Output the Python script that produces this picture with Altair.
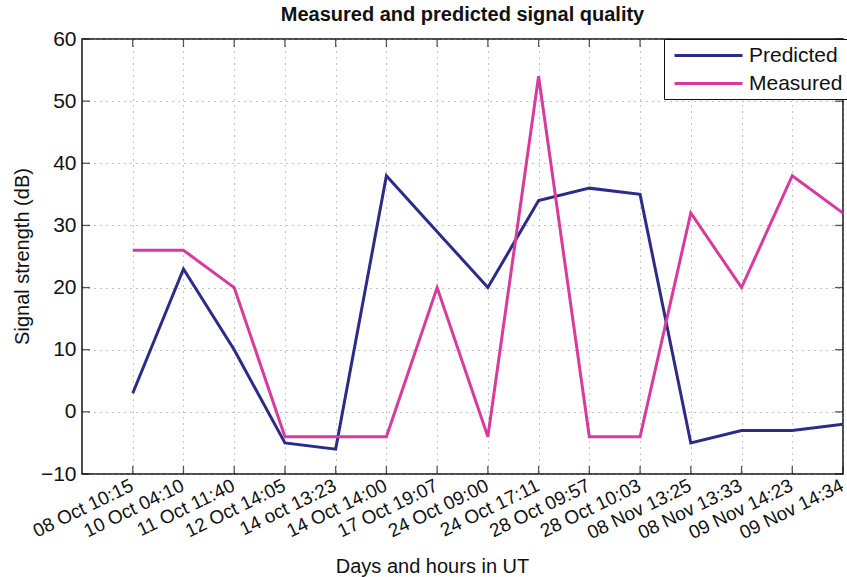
import altair as alt
import pandas as pd

# Measurement times (UT) and signal strengths in dB
times = [
    "08 Oct 10:15", "10 Oct 04:10", "11 Oct 11:40", "12 Oct 14:05", "14 oct 13:23",
    "14 Oct 14:00", "17 Oct 19:07", "24 Oct 09:00", "24 Oct 17:11", "28 Oct 09:57",
    "28 Oct 10:03", "08 Nov 13:25", "08 Nov 13:33", "09 Nov 14:23", "09 Nov 14:34",
]
predicted = [3, 23, 10, -5, -6, 38, 29, 20, 34, 36, 35, -5, -3, -3, -2]
measured = [26, 26, 20, -4, -4, -4, 20, -4, 54, -4, -4, 32, 20, 38, 32]
y_ticks = [-10, 0, 10, 20, 30, 40, 50, 60]

series_names = ["Predicted", "Measured"]
series_colors = ["#2c2c88", "#d83a9e"]

rows = []
for i, t in enumerate(times):
    rows.append({"idx": i, "time": t, "series": "Predicted", "value": predicted[i]})
    rows.append({"idx": i, "time": t, "series": "Measured", "value": measured[i]})
df = pd.DataFrame(rows)

W, H = 761, 435
FONT = "Liberation Sans"

label_array = "[" + ",".join("'" + t + "'" for t in times) + "]"

x_scale = alt.Scale(domain=[-1, len(times) - 1], nice=False, zero=False)
y_scale = alt.Scale(domain=[-10, 60], nice=False, zero=False)

lines = alt.Chart(df).mark_line(strokeWidth=3, strokeJoin="miter", clip=True).encode(
    x=alt.X(
        "idx:Q",
        scale=x_scale,
        axis=alt.Axis(
            values=list(range(len(times))),
            labelExpr=label_array + "[datum.value]",
            labelAngle=-26,
            labelAlign="right",
            labelBaseline="top",
            labelPadding=2,
            labelOffset=-5,
            labelFontSize=19,
            labelFont=FONT,
            labelColor="#111",
            labelOverlap=False,
            labelBound=False,
            labelFlush=False,
            tickSize=0,
            domain=False,
            grid=True,
            gridColor="#8a8a8a",
            gridDash=[1, 5],
            gridWidth=1,
            title="Days and hours in UT",
            titleFont=FONT,
            titleFontSize=20,
            titleFontWeight="normal",
            titleColor="#111",
            titleX=350,
            titleY=92,
            titleBaseline="middle",
            titleAlign="center",
        ),
    ),
    y=alt.Y(
        "value:Q",
        scale=y_scale,
        axis=alt.Axis(
            values=y_ticks,
            labelFontSize=21,
            labelFont=FONT,
            labelColor="#111",
            labelPadding=6,
            tickSize=0,
            domain=False,
            grid=True,
            gridColor="#8a8a8a",
            gridDash=[1, 5],
            gridWidth=1,
            title="Signal strength (dB)",
            titleFont=FONT,
            titleFontSize=20,
            titleFontWeight="normal",
            titleColor="#111",
            titleX=-60,
            titleY=217,
            titleAngle=270,
            titleBaseline="middle",
            titleAlign="center",
        ),
    ),
    color=alt.Color(
        "series:N",
        scale=alt.Scale(domain=series_names, range=series_colors),
        sort=series_names,
        legend=alt.Legend(
            title=None,
            orient="none",
            legendX=582,
            legendY=0,
            # long horizontal stroke as the line sample
            symbolType="M-0.6,0H6.2",
            symbolSize=400,
            symbolStrokeWidth=3,
            symbolFillColor="transparent",
            labelFont=FONT,
            labelFontSize=21,
            labelColor="#111",
            labelOffset=57,
            rowPadding=6,
            padding=5,
            strokeColor="#111",
            fillColor="white",
            cornerRadius=0,
        ),
    ),
    detail="series:N",
)

# Inward tick marks along all four frame edges
xt = pd.DataFrame({"idx": list(range(len(times)))})
yt = pd.DataFrame({"v": y_ticks})
tick_style = dict(color="#111", thickness=1.3, size=8)
bottom_ticks = alt.Chart(xt).mark_tick(orient="vertical", **tick_style).encode(
    x=alt.X("idx:Q", scale=x_scale), y=alt.value(H - 4)
)
top_ticks = alt.Chart(xt).mark_tick(orient="vertical", **tick_style).encode(
    x=alt.X("idx:Q", scale=x_scale), y=alt.value(4)
)
left_ticks = alt.Chart(yt).mark_tick(orient="horizontal", **tick_style).encode(
    y=alt.Y("v:Q", scale=y_scale), x=alt.value(4)
)
right_ticks = alt.Chart(yt).mark_tick(orient="horizontal", **tick_style).encode(
    y=alt.Y("v:Q", scale=y_scale), x=alt.value(W - 4)
)

chart = (
    alt.layer(lines, bottom_ticks, top_ticks, left_ticks, right_ticks)
    .properties(
        width=W,
        height=H,
        title=alt.TitleParams(
            "Measured and predicted signal quality",
            font=FONT,
            fontSize=20,
            fontWeight="bold",
            color="#111",
            anchor="middle",
            offset=3,
        ),
        autosize=alt.AutoSizeParams(type="none"),
        padding={"left": 82, "top": 39, "right": 4, "bottom": 103},
        background="white",
    )
    .configure_view(stroke="#111", strokeWidth=1.5)
)

chart.save("out.html", embed_options={"renderer": "svg", "actions": False})
